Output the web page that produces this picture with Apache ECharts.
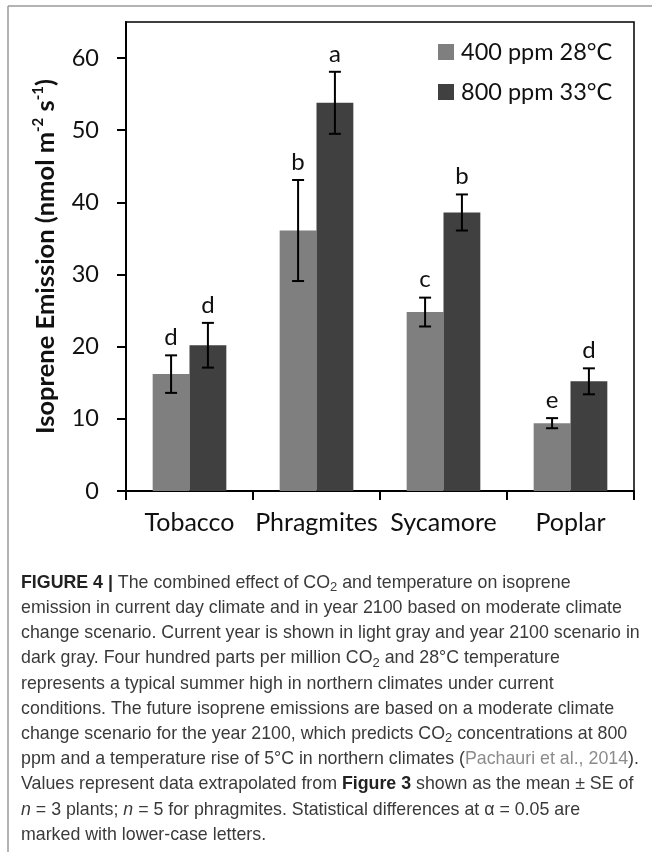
<!DOCTYPE html>
<html>
<head>
<meta charset="utf-8">
<script src="https://cdn.jsdelivr.net/npm/echarts@6/dist/echarts.min.js"></script>
<style>
  html, body { margin: 0; padding: 0; background: #fff; }
  #chart { width: 652px; height: 852px; }
</style>
</head>
<body>
<div id="chart"></div>
<script>
// Plant species on the x axis
const species = ['Tobacco', 'Phragmites', 'Sycamore', 'Poplar'];

// Isoprene emission means (nmol m-2 s-1) and standard errors
const current400 = [16.2, 36.1, 24.8, 9.4];
const current400SE = [2.6, 7.0, 2.0, 0.7];
const future800 = [20.2, 53.8, 38.6, 15.2];
const future800SE = [3.1, 4.3, 2.5, 1.8];

// Significance letters above each bar
const current400Letters = ['d', 'b', 'c', 'e'];
const future800Letters = ['d', 'a', 'b', 'd'];

// Y axis ticks
const yTicks = [0, 10, 20, 30, 40, 50, 60];

const seriesNames = ['400 ppm 28°C', '800 ppm 33°C'];
const colors = ['#7f7f7f', '#404040'];
const FONT = 'Lato';
const BAR_FRAC = 0.29;

const chart = echarts.init(document.getElementById('chart'), null, { renderer: 'canvas' });

// Error bar with caps, plus the significance letter above it
function errorBarRenderer(side, letters) {
  return function (params, api) {
    const i = api.value(0);
    const v = api.value(1);
    const se = api.value(2);
    const band = api.size([1, 0])[0];
    const bw = band * BAR_FRAC;
    const cx = api.coord([i, 0])[0] + side * bw / 2;
    const yTop = api.coord([i, v + se])[1];
    const yBot = api.coord([i, v - se])[1];
    const cap = 6;
    const lineStyle = { stroke: '#000', lineWidth: 2 };
    return {
      type: 'group',
      children: [
        { type: 'line', shape: { x1: cx, y1: yTop, x2: cx, y2: yBot }, style: lineStyle },
        { type: 'line', shape: { x1: cx - cap, y1: yTop, x2: cx + cap, y2: yTop }, style: lineStyle },
        { type: 'line', shape: { x1: cx - cap, y1: yBot, x2: cx + cap, y2: yBot }, style: lineStyle },
        {
          type: 'text',
          style: {
            text: letters[params.dataIndex],
            x: cx, y: yTop - 6,
            align: 'center', verticalAlign: 'bottom',
            font: '24px ' + FONT, fill: '#111'
          }
        }
      ]
    };
  };
}

function errData(vals, ses) {
  return vals.map((v, i) => [i, v, ses[i]]);
}

// Caption lines (rich text)
const captionLines = [
  '{b|FIGURE 4 |} The combined effect of CO{sub|2} and temperature on isoprene',
  'emission in current day climate and in year 2100 based on moderate climate',
  'change scenario. Current year is shown in light gray and year 2100 scenario in',
  'dark gray. Four hundred parts per million CO{sub|2} and 28°C temperature',
  'represents a typical summer high in northern climates under current',
  'conditions. The future isoprene emissions are based on a moderate climate',
  'change scenario for the year 2100, which predicts CO{sub|2} concentrations at 800',
  'ppm and a temperature rise of 5°C in northern climates ({ref|Pachauri et al., 2014}).',
  'Values represent data extrapolated from {b|Figure 3} shown as the mean ± SE of',
  '{i|n} = 3 plants; {i|n} = 5 for phragmites. Statistical differences at α = 0.05 are',
  'marked with lower-case letters.'
];

const capFont = 'Liberation Sans';
const capSize = 17.8;
const capRich = {
  b: { fontFamily: capFont, fontSize: capSize, fontWeight: 'bold', fill: '#222', lineHeight: 22 },
  sub: { fontFamily: capFont, fontSize: 13, verticalAlign: 'bottom', lineHeight: 13, fill: '#3a3a3a' },
  ref: { fontFamily: capFont, fontSize: capSize, fill: '#8c8c8c', lineHeight: 22 },
  i: { fontFamily: capFont, fontSize: capSize, fontStyle: 'italic', fill: '#3a3a3a', lineHeight: 22 }
};

const graphics = [
  // outer figure frame
  { type: 'line', shape: { x1: 8, y1: 6, x2: 652, y2: 6 }, style: { stroke: '#9a9a9a', lineWidth: 1.5 } },
  { type: 'line', shape: { x1: 8, y1: 6, x2: 8, y2: 852 }, style: { stroke: '#9a9a9a', lineWidth: 1.5 } }
];
captionLines.forEach((t, k) => {
  graphics.push({
    type: 'text',
    x: 21,
    y: 583 + k * 25.2,
    style: {
      text: t,
      fontFamily: capFont,
      fontSize: capSize,
      fill: '#3a3a3a',
      lineHeight: 22,
      verticalAlign: 'middle',
      rich: capRich
    }
  });
});

const option = {
  animation: false,
  backgroundColor: '#fff',
  grid: {
    left: 126, top: 22, right: 18, bottom: 361,
    show: true, borderColor: '#000', borderWidth: 1.5, backgroundColor: 'transparent'
  },
  legend: {
    data: seriesNames,
    orient: 'vertical',
    left: 433, top: 33,
    icon: 'rect',
    itemWidth: 16, itemHeight: 16,
    itemGap: 12,
    textStyle: { fontFamily: FONT, fontSize: 23.5, color: '#111', lineHeight: 28, padding: [0, 0, 0, 2] }
  },
  xAxis: {
    type: 'category',
    data: species,
    axisLine: { lineStyle: { color: '#000', width: 2 } },
    axisTick: { show: true, length: 9, lineStyle: { color: '#000', width: 2 } },
    axisLabel: { fontFamily: FONT, fontSize: 25, color: '#111', margin: 19, interval: 0 }
  },
  yAxis: {
    type: 'value',
    min: 0, max: 65, interval: 10,
    name: 'Isoprene Emission (nmol m{sup|-2} s{sup|-1})',
    nameLocation: 'middle',
    nameGap: 63,
    nameRotate: 90,
    nameTextStyle: {
      fontFamily: FONT, fontSize: 25.5, fontWeight: 'bold', color: '#111', lineHeight: 30,
      rich: {
        sup: { fontFamily: FONT, fontSize: 15, fontWeight: 'bold', color: '#111', verticalAlign: 'top', lineHeight: 15 }
      }
    },
    splitLine: { show: false },
    axisLine: { show: true, lineStyle: { color: '#000', width: 2 } },
    axisTick: { show: true, length: 9, customValues: yTicks, lineStyle: { color: '#000', width: 2 } },
    axisLabel: { fontFamily: FONT, fontSize: 23.5, color: '#111', margin: 27, customValues: yTicks }
  },
  series: [
    {
      name: seriesNames[0], type: 'bar', data: current400,
      barWidth: (BAR_FRAC * 100) + '%', barGap: '0%',
      itemStyle: { color: colors[0] }
    },
    {
      name: seriesNames[1], type: 'bar', data: future800,
      barWidth: (BAR_FRAC * 100) + '%', barGap: '0%',
      itemStyle: { color: colors[1] }
    },
    {
      type: 'custom', renderItem: errorBarRenderer(-1, current400Letters),
      data: errData(current400, current400SE), z: 5, silent: true
    },
    {
      type: 'custom', renderItem: errorBarRenderer(1, future800Letters),
      data: errData(future800, future800SE), z: 5, silent: true
    }
  ],
  graphic: graphics
};

chart.setOption(option);
</script>
</body>
</html>
